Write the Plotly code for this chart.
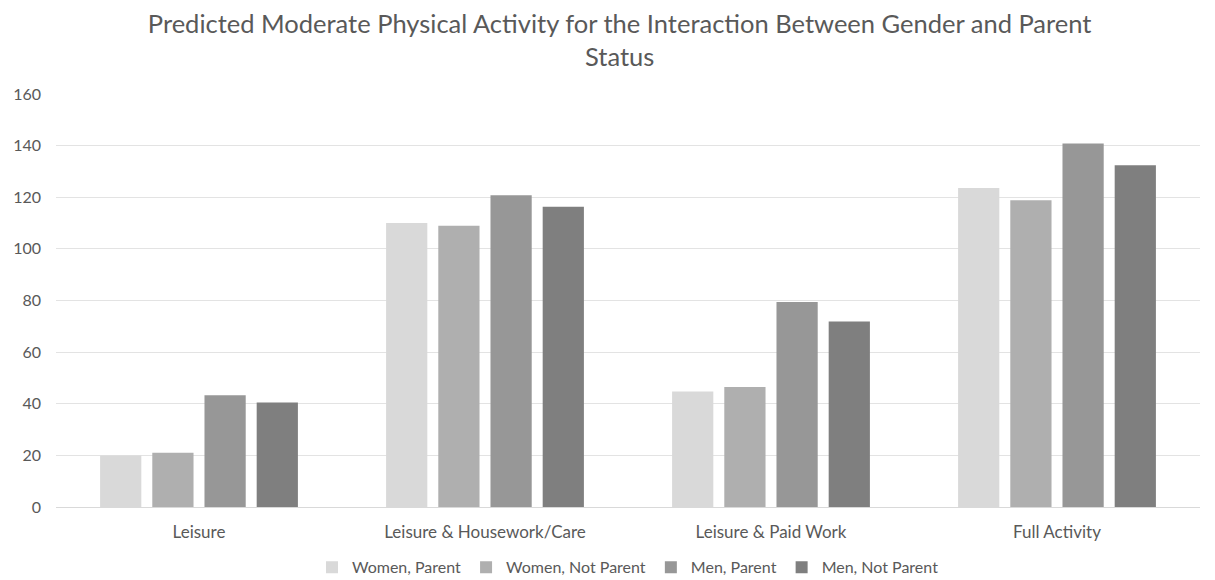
import plotly.graph_objects as go

# Activity domains on the x axis
categories = ["Leisure", "Leisure & Housework/Care", "Leisure & Paid Work", "Full Activity"]

# Predicted moderate physical activity per group
women_parent = [20, 110, 44.7, 123.6]
women_not_parent = [21, 109, 46.5, 118.8]
men_parent = [43.3, 120.8, 79.4, 140.8]
men_not_parent = [40.5, 116.3, 71.9, 132.4]

series_names = ["Women, Parent", "Women, Not Parent", "Men, Parent", "Men, Not Parent"]
series_values = [women_parent, women_not_parent, men_parent, men_not_parent]
series_colors = ["#d9d9d9", "#afafaf", "#979797", "#7f7f7f"]

y_ticks = [0, 20, 40, 60, 80, 100, 120, 140, 160]

FONT = "Lato"
GREY_TEXT = "#595959"

fig = go.Figure()
for name, vals, color in zip(series_names, series_values, series_colors):
    fig.add_trace(go.Bar(
        x=categories, y=vals, name=name,
        marker=dict(color=color, line=dict(width=0)),
    ))

fig.update_layout(
    width=1215, height=580,
    paper_bgcolor="white", plot_bgcolor="white",
    margin=dict(l=56, r=15, t=94, b=73, autoexpand=False),
    barmode="group", bargap=0.27, bargroupgap=0.21,
    title=dict(
        text="Predicted Moderate Physical Activity for the Interaction Between Gender and Parent<br>Status",
        x=0.51, xanchor="center", yref="container", y=0.943, yanchor="middle",
        font=dict(family=FONT, size=25.5, color=GREY_TEXT),
    ),
    font=dict(family=FONT, color=GREY_TEXT, size=16),
    showlegend=True,
    legend=dict(
        orientation="h", x=0.5, xanchor="center",
        yref="container", y=0.022, yanchor="middle",
        font=dict(family=FONT, size=16, color=GREY_TEXT),
        itemwidth=30, traceorder="normal",
    ),
)
fig.update_xaxes(
    showline=True, linecolor="#d9d9d9", linewidth=1,
    tickfont=dict(family=FONT, size=17, color=GREY_TEXT),
    ticks="", ticklabelstandoff=10,
)
fig.update_yaxes(
    range=[0, 160], tickvals=y_ticks,
    showgrid=True, gridcolor="#e3e3e3", gridwidth=1,
    zeroline=False, showline=False,
    tickfont=dict(family=FONT, size=16, color=GREY_TEXT),
    ticklabelstandoff=14,
)

fig.write_html("out.html")
